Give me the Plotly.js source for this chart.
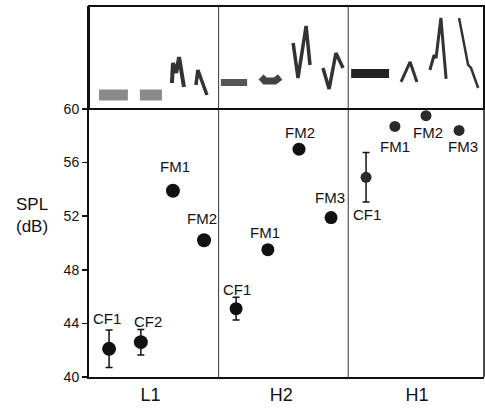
<!DOCTYPE html>
<html>
<head>
<meta charset="utf-8">
<script src="https://cdn.plot.ly/plotly-3.0.1.min.js"></script>
<style>html,body{margin:0;padding:0;background:#fff;}#chart{width:485px;height:411px;}</style>
</head>
<body>
<div id="chart"></div>
<script>
// ---- data ----
const groupNames = ['L1', 'H2', 'H1'];
const groupCenters = [1.9, 5.93, 10.12];
const groupBounds = [4, 8];

const l1Labels = ['CF1', 'CF2', 'FM1', 'FM2'];
const l1X = [0.62, 1.60, 2.59, 3.55];
const l1SPL = [42.1, 42.6, 53.9, 50.2];
const l1Err = [1.4, 0.95, 0.3, 0];

const h2Labels = ['CF1', 'FM1', 'FM2', 'FM3'];
const h2X = [4.54, 5.52, 6.48, 7.47];
const h2SPL = [45.1, 49.5, 57.0, 51.9];
const h2Err = [0.85, 0, 0, 0];

const h1Labels = ['CF1', 'FM1', 'FM2', 'FM3'];
const h1X = [8.55, 9.44, 10.40, 11.42];
const h1SPL = [54.9, 58.7, 59.5, 58.4];
const h1Err = [1.85, 0, 0, 0];

const yTicks = [40, 44, 48, 52, 56, 60];

// top-panel call sketches (arbitrary frequency units)
const l1cf1X = [0.31, 1.20], l1cf1Y = [14, 14];
const l1cf2X = [1.57, 2.25], l1cf2Y = [14, 14];
const l1fm1X = [2.56, 2.59, 2.69, 2.78, 2.93], l1fm1Y = [26, 46, 36, 52, 22];
const l1fm2X = [3.30, 3.36, 3.64], l1fm2Y = [24, 39, 14];
const h2cf1X = [4.07, 4.88], h2cf1Y = [26.5, 26.5];
const h2cf2X = [5.31, 5.43, 5.74, 5.90], h2cf2Y = [32, 28, 28, 32];
const h2fm1X = [6.30, 6.45, 6.70, 6.82], h2fm1Y = [66, 31, 83, 44];
const h2fm2X = [7.22, 7.41, 7.62, 7.84], h2fm2Y = [41, 20, 56, 41];
const h1cf1X = [8.09, 9.26], h1cf1Y = [35.5, 35.5];
const h1cf2X = [9.63, 9.91, 10.12], h1cf2Y = [27, 47, 27];
const h1fm1X = [10.52, 10.65, 10.71, 10.86, 11.02], h1fm1Y = [39, 54, 51, 91, 30];
const h1fm2X = [11.42, 11.70, 11.79, 12.01], h1fm2Y = [91, 44, 41, 21];

// ---- styles ----
const FONT = 'Liberation Sans, Arial, Helvetica, sans-serif';
const DOM = 0.7224;
// label offsets in px [dx, dy] (dy positive = up)
const l1Off = [[-2, 30], [7, 21], [2, 24], [-2, 22]];
const h2Off = [[1, 19], [-3, 17], [1, 17], [-1, 20]];
const h1Off = [[1, -37], [0, -20], [2, -17], [4, -16]];

function ptTrace(x, y, err, size, color) {
  return {
    x: x, y: y, type: 'scatter', mode: 'markers', xaxis: 'x', yaxis: 'y',
    marker: {size: size, color: color},
    error_y: {type: 'data', array: err, visible: true, color: '#111', thickness: 1.5, width: 3.5},
    hoverinfo: 'skip', showlegend: false
  };
}
function sketch(x, y, w, c) {
  return {x: x, y: y, type: 'scatter', mode: 'lines', xaxis: 'x', yaxis: 'y2',
    line: {color: c, width: w}, hoverinfo: 'skip', showlegend: false};
}

const traces = [
  ptTrace(l1X, l1SPL, l1Err, 14, '#111'),
  ptTrace(h2X, h2SPL, h2Err, 13, '#111'),
  ptTrace(h1X, h1SPL, h1Err, 11, '#2a2a2a'),
  sketch(l1cf1X, l1cf1Y, 11, '#8a8a8a'),
  sketch(l1cf2X, l1cf2Y, 11, '#8a8a8a'),
  sketch(l1fm1X, l1fm1Y, 4, '#333'),
  sketch(l1fm2X, l1fm2Y, 3.5, '#333'),
  sketch(h2cf1X, h2cf1Y, 7, '#555'),
  sketch(h2cf2X, h2cf2Y, 7, '#444'),
  sketch(h2fm1X, h2fm1Y, 3.5, '#333'),
  sketch(h2fm2X, h2fm2Y, 3.5, '#333'),
  sketch(h1cf1X, h1cf1Y, 9, '#222'),
  sketch(h1cf2X, h1cf2Y, 3, '#333'),
  sketch(h1fm1X, h1fm1Y, 3, '#333'),
  sketch(h1fm2X, h1fm2Y, 2.5, '#333')
];

const annotations = [];
function addLabels(labels, x, y, off) {
  labels.forEach((t, i) => annotations.push({
    x: x[i], y: y[i], xref: 'x', yref: 'y', text: t, showarrow: false,
    xshift: off[i][0], yshift: off[i][1],
    font: {family: FONT, size: 15, color: '#111'}
  }));
}
addLabels(l1Labels, l1X, l1SPL, l1Off);
addLabels(h2Labels, h2X, h2SPL, h2Off);
addLabels(h1Labels, h1X, h1SPL, h1Off);
annotations.push({
  xref: 'paper', yref: 'paper', x: -0.145, y: 0.435, xanchor: 'center', yanchor: 'middle',
  text: 'SPL<br>(dB)', showarrow: false, align: 'center',
  font: {family: FONT, size: 17, color: '#111'}
});

const shapes = [];
groupBounds.forEach(b => shapes.push({
  type: 'line', xref: 'x', yref: 'paper', x0: b, x1: b, y0: 0, y1: 1,
  line: {color: '#333', width: 1}
}));
shapes.push({type: 'rect', xref: 'paper', yref: 'paper', x0: 0, x1: 1, y0: DOM, y1: 1,
  line: {color: '#111', width: 2}});
shapes.push({type: 'line', xref: 'paper', yref: 'paper', x0: 1, x1: 1, y0: 0, y1: 1,
  line: {color: '#111', width: 1.5}});

const layout = {
  width: 485, height: 411,
  margin: {l: 89, r: 1, t: 6, b: 34},
  paper_bgcolor: '#fff', plot_bgcolor: '#fff',
  showlegend: false,
  xaxis: {
    range: [0, 12.19], showgrid: false, zeroline: false,
    tickvals: groupCenters, ticktext: groupNames, ticks: '',
    showline: true, linecolor: '#111', linewidth: 2,
    tickfont: {family: FONT, size: 18, color: '#111'},
    fixedrange: true
  },
  yaxis: {
    domain: [0, DOM], range: [40, 60], tickvals: yTicks,
    showgrid: false, zeroline: false, ticks: 'outside', ticklen: 5, tickwidth: 1.5,
    tickcolor: '#111', showline: true, linecolor: '#111', linewidth: 2,
    tickfont: {family: FONT, size: 14, color: '#111'},
    fixedrange: true
  },
  yaxis2: {
    domain: [DOM, 1], range: [0, 103], showticklabels: false, ticks: '',
    showgrid: false, zeroline: false, showline: true, linecolor: '#111', linewidth: 2,
    anchor: 'x', fixedrange: true
  },
  shapes: shapes,
  annotations: annotations
};

Plotly.newPlot('chart', traces, layout, {displayModeBar: false, staticPlot: true});
</script>
</body>
</html>
